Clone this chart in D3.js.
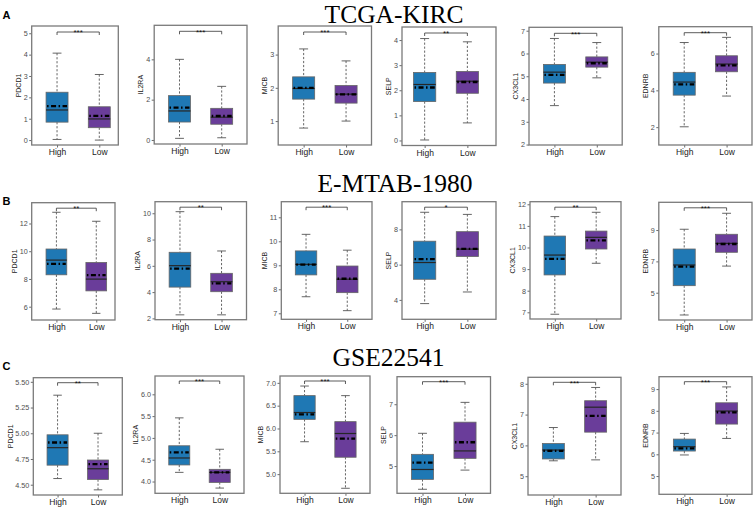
<!DOCTYPE html>
<html><head><meta charset="utf-8">
<script src="https://cdn.jsdelivr.net/npm/d3@7"></script>
<style>body{margin:0;background:#fff}svg{display:block}</style>
</head><body><svg id="c" width="756" height="509"></svg>
<script>
// ---------------- DATA ----------------
const datasets = ["TCGA-KIRC", "E-MTAB-1980", "GSE22541"];
const rowLetters = ["A", "B", "C"];
const genes = ["PDCD1", "IL2RA", "MICB", "SELP", "CX3CL1", "EDNRB"];
const groups = ["High", "Low"];
const significance = [
  ["***", "***", "***", "**", "***", "***"],
  ["**", "**", "***", "*", "**", "***"],
  ["**", "***", "***", "***", "***", "***"]
];
// [whiskerLow, Q1, median, Q3, whiskerHigh, mean]
const highStats = [
  [[0.03,0.84,1.41,2.24,4.07,1.59],[0.08,0.89,1.44,2.20,4.00,1.60],[0.79,1.66,1.98,2.33,3.17,2.00],
   [0.02,1.55,2.23,2.71,4.06,2.11],[3.71,4.70,5.18,5.52,6.66,5.06],[2.02,3.74,4.45,4.98,6.60,4.33]],
  [[5.83,8.30,9.36,10.16,12.81,9.09],[2.27,4.38,6.01,7.03,10.12,5.78],[7.69,8.60,9.04,9.60,10.29,9.03],
   [3.79,5.17,6.12,7.33,8.97,6.31],[6.91,8.73,9.65,10.53,11.43,9.47],[3.58,5.45,6.77,7.79,9.05,6.66]],
  [[4.56,4.69,4.86,4.985,5.37,4.91],[4.21,4.38,4.54,4.82,5.46,4.67],[5.71,6.20,6.35,6.72,6.93,6.31],
   [4.25,4.57,4.89,5.38,6.06,5.11],[5.50,5.56,5.85,6.06,6.58,5.82],[5.97,6.15,6.35,6.70,6.96,6.27]]
];
const lowStats = [
  [[0.00,0.58,0.99,1.56,3.07,1.13],[0.11,0.78,1.13,1.57,2.66,1.19],[1.00,1.54,1.81,2.07,2.81,1.80],
   [0.70,1.88,2.36,2.75,3.93,2.33],[4.93,5.40,5.62,5.85,6.48,5.57],[3.69,5.01,5.43,5.88,6.88,5.36]],
  [[5.52,7.14,7.99,9.19,12.16,8.27],[2.27,4.03,4.79,5.43,7.13,4.67],[7.11,7.86,8.42,8.97,9.63,8.44],
   [4.45,6.46,6.88,7.87,8.85,6.90],[9.27,9.93,10.47,10.76,11.63,10.33],[6.70,7.58,8.15,8.73,10.07,8.11]],
  [[4.45,4.55,4.655,4.74,5.00,4.70],[3.85,3.98,4.21,4.28,4.74,4.21],[4.69,5.37,5.89,6.15,6.72,5.78],
   [4.87,5.25,5.49,6.42,7.06,5.77],[5.53,6.43,7.24,7.45,7.88,6.96],[6.73,7.39,7.99,8.37,9.10,7.93]]
];
const yDomains = [
  [[-0.23,5.34],[-0.2,5.69],[0.28,3.86],[-0.2,4.52],[1.98,7.15],[1.03,7.46]],
  [[5.04,13.5],[1.9,10.88],[6.75,11.65],[2.9,9.57],[6.69,12.12],[3.26,10.77]],
  [[4.40,5.54],[3.73,6.42],[4.58,7.15],[4.12,7.89],[4.39,8.21],[4.16,9.57]]
];
const yTicks = [
  [[0,1,2,3,4,5],[0,2,4],[1,2,3],[0,1,2,3,4],[2,3,4,5,6,7],[2,4,6]],
  [[6,8,10,12],[2,4,6,8,10],[7,8,9,10,11],[4,6,8],[7,8,9,10,11,12],[5,7,9]],
  [[4.5,4.75,5,5.25,5.5],[4,4.5,5,5.5,6],[5,5.5,6,6.5,7],[5,6,7],[5,6,7,8],[5,6,7,8,9]]
];
const yTickFormats = [
  ["d","d","d","d","d","d"],
  ["d","d","d","d","d","d"],
  [".2f",".1f",".1f","d","d","d"]
];

// ---------------- LAYOUT (positions only) ----------------
// [x0, x1, y0, y1, xDomainLo, xDomainHi]
const frames = [
  [[31.7,118.3,26,145,0.4,2.45],[154.2,247,25.3,144,0.4,2.6],[278.2,371.5,26,145,0.4,2.6],
   [402,496,27,145.5,0.47,2.67],[529,622.2,27.3,145,0.4,2.6],[658.8,752,26.7,145,0.4,2.6]],
  [[31.7,115,202.7,320,0.38,2.47],[155,246.5,201.7,319.7,0.4,2.6],[281.3,372,201.7,319.3,0.4,2.6],
   [402,496,201.7,319.3,0.47,2.67],[530,621,201.7,319,0.4,2.6],[658.8,752,202.3,320,0.4,2.6]],
  [[33.3,122.3,377.7,495,0.4,2.6],[155,244,376,493.3,0.4,2.6],[280,370,376,493.3,0.4,2.6],
   [397,490.5,376.7,493.3,0.4,2.6],[528,621,377.3,495,0.4,2.6],[659,752,376.7,494.3,0.4,2.6]]
];
const titlePos = [[394,22.8],[395,192.3],[388.5,365.7]];
const letterPos = [[2.5,18.5],[2.5,205],[2.5,370]];
const bracketOffset = [6, 5.5, 5];
const colors = {High: "#1F78B4", Low: "#6A3D9A"};

// ---------------- DRAW ----------------
const svg = d3.select("#c");
const sans = "'Liberation Sans', Arial, sans-serif";

datasets.forEach((ds, r) => {
  svg.append("text").attr("x", titlePos[r][0]).attr("y", titlePos[r][1])
    .attr("text-anchor", "middle").attr("font-family", "'Liberation Serif','Times New Roman',serif")
    .attr("font-size", 25.5).attr("fill", "#000").text(ds);
  svg.append("text").attr("x", letterPos[r][0]).attr("y", letterPos[r][1])
    .attr("font-family", sans).attr("font-weight", "bold").attr("font-size", 11).attr("fill", "#000")
    .text(rowLetters[r]);

  genes.forEach((gene, c) => {
    const [x0, x1, y0, y1, xd0, xd1] = frames[r][c];
    const y = d3.scaleLinear().domain(yDomains[r][c]).range([y1, y0]);
    const x = d3.scaleLinear().domain([xd0, xd1]).range([x0, x1]);
    const step = x(2) - x(1);
    const bw = 0.52 * step, cw = 0.21 * step;
    const g = svg.append("g");

    // y axis
    const ay = g.append("g").attr("transform", `translate(${x0},0)`)
      .call(d3.axisLeft(y).tickValues(yTicks[r][c]).tickFormat(d3.format(yTickFormats[r][c]))
        .tickSize(2.5).tickPadding(1.5));
    ay.select(".domain").remove();
    ay.selectAll("line").attr("stroke", "#444").attr("stroke-width", 0.8);
    ay.selectAll("text").attr("font-family", sans).attr("font-size", 7.2).attr("fill", "#4d4d4d");
    const maxW = d3.max(ay.selectAll("text").nodes(), n => n.getComputedTextLength());

    // x axis
    const ax = g.append("g").attr("transform", `translate(0,${y1})`)
      .call(d3.axisBottom(x).tickValues([1, 2]).tickFormat(i => groups[i - 1]).tickSize(2.5).tickPadding(1.5));
    ax.select(".domain").remove();
    ax.selectAll("line").attr("stroke", "#444").attr("stroke-width", 0.8);
    ax.selectAll("text").attr("font-family", sans).attr("font-size", 8.5).attr("fill", "#1a1a1a");

    // y title
    const tx = x0 - 4 - maxW - 2.8, ty = (y0 + y1) / 2;
    g.append("text").attr("transform", `translate(${tx},${ty}) rotate(-90)`)
      .attr("text-anchor", "middle").attr("font-family", sans).attr("font-size", 7)
      .attr("fill", "#222").text(gene);

    // boxes
    groups.forEach((grp, i) => {
      const s = (i === 0 ? highStats : lowStats)[r][c];
      const cx = x(i + 1);
      const bg = g.append("g");
      bg.append("line").attr("x1", cx).attr("x2", cx).attr("y1", y(s[4])).attr("y2", y(s[3]))
        .attr("stroke", "#555").attr("stroke-width", 0.9).attr("stroke-dasharray", "2.2,1.8");
      bg.append("line").attr("x1", cx).attr("x2", cx).attr("y1", y(s[1])).attr("y2", y(s[0]))
        .attr("stroke", "#555").attr("stroke-width", 0.9).attr("stroke-dasharray", "2.2,1.8");
      [s[0], s[4]].forEach(v => bg.append("line").attr("x1", cx - cw / 2).attr("x2", cx + cw / 2)
        .attr("y1", y(v)).attr("y2", y(v)).attr("stroke", "#555").attr("stroke-width", 0.9));
      bg.append("rect").attr("x", cx - bw / 2).attr("width", bw)
        .attr("y", y(s[3])).attr("height", y(s[1]) - y(s[3]))
        .attr("fill", colors[grp]).attr("stroke", "#666").attr("stroke-width", 0.8);
      bg.append("line").attr("x1", cx - bw / 2).attr("x2", cx + bw / 2)
        .attr("y1", y(s[2])).attr("y2", y(s[2])).attr("stroke", "#262626").attr("stroke-width", 1.2);
      bg.append("line").attr("x1", cx - bw / 2 + 1).attr("x2", cx + bw / 2 - 1)
        .attr("y1", y(s[5])).attr("y2", y(s[5])).attr("stroke", "#000").attr("stroke-width", 2.3)
        .attr("stroke-dasharray", "1.5,2.5,5,2.5");
    });

    // significance bracket
    const by = y0 + bracketOffset[r], bx1 = x(1), bx2 = x(2);
    g.append("path").attr("d", `M${bx1},${by + 3}V${by}H${bx2}V${by + 3}`)
      .attr("fill", "none").attr("stroke", "#333").attr("stroke-width", 0.8);
    g.append("text").attr("x", (bx1 + bx2) / 2).attr("y", by + 3.2).attr("text-anchor", "middle")
      .attr("font-family", sans).attr("font-size", 8).attr("fill", "#111").text(significance[r][c]);

    // frame
    g.append("rect").attr("x", x0).attr("y", y0).attr("width", x1 - x0).attr("height", y1 - y0)
      .attr("fill", "none").attr("stroke", "#7a7a7a").attr("stroke-width", 1.3);
  });
});
</script></body></html>
